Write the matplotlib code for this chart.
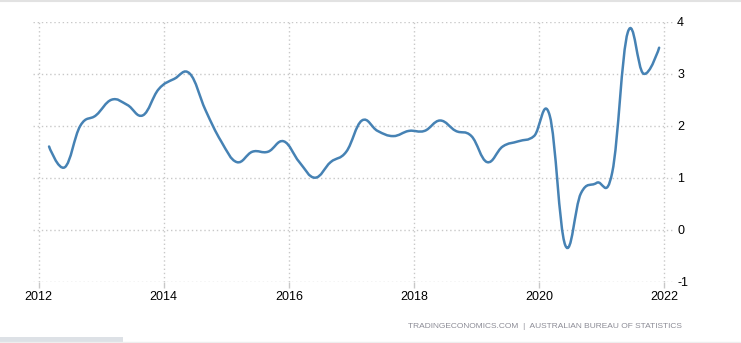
import matplotlib
matplotlib.use('Agg')
import matplotlib.pyplot as plt
from matplotlib.path import Path
from matplotlib.patches import PathPatch, Rectangle
from matplotlib.lines import Line2D

# Australia inflation rate, year over year, quarterly (Mar 2012 - Dec 2021)
quarter_years = [2012] * 4 + [2013] * 4 + [2014] * 4 + [2015] * 4 + [2016] * 4 + \
                [2017] * 4 + [2018] * 4 + [2019] * 4 + [2020] * 4 + [2021] * 4
quarter_months = [3, 6, 9, 12] * 10
inflation = [1.6, 1.2, 2.0, 2.2,
             2.5, 2.4, 2.2, 2.7,
             2.9, 3.0, 2.3, 1.7,
             1.3, 1.5, 1.5, 1.7,
             1.3, 1.0, 1.3, 1.5,
             2.1, 1.9, 1.8, 1.9,
             1.9, 2.1, 1.9, 1.8,
             1.3, 1.6, 1.7, 1.8,
             2.2, -0.3, 0.7, 0.9,
             1.1, 3.8, 3.0, 3.5]

x_ticks = [2012, 2014, 2016, 2018, 2020, 2022]
y_ticks = [-1, 0, 1, 2, 3, 4]
source = "TRADINGECONOMICS.COM  |  AUSTRALIAN BUREAU OF STATISTICS"

line_colour = '#4682b4'
grid_colour = '#c8c8c8'


def spline_path(xs, ys, smoothing=1.5):
    # smooth curve through every point, like a highcharts spline
    n = len(xs)
    left, right = [], []
    for i in range(n):
        if 0 < i < n - 1:
            d = smoothing + 1
            lx = (smoothing * xs[i] + xs[i - 1]) / d
            ly = (smoothing * ys[i] + ys[i - 1]) / d
            rx = (smoothing * xs[i] + xs[i + 1]) / d
            ry = (smoothing * ys[i] + ys[i + 1]) / d
            corr = (ry - ly) * (rx - xs[i]) / (rx - lx) + ys[i] - ry
            ly += corr
            ry += corr
        else:
            lx, ly, rx, ry = xs[i], ys[i], xs[i], ys[i]
        left.append((lx, ly))
        right.append((rx, ry))

    verts = [(xs[0], ys[0])]
    codes = [Path.MOVETO]
    for i in range(1, n):
        verts += [right[i - 1], left[i], (xs[i], ys[i])]
        codes += [Path.CURVE4] * 3
    return Path(verts, codes)


x = [y + (m - 1) / 12 for y, m in zip(quarter_years, quarter_months)]

fig = plt.figure(figsize=(7.41, 3.43), dpi=100)
ax = fig.add_axes([33 / 741, 1 - 281.7 / 343, (675 - 33) / 741, 260 / 343])

ax.add_patch(PathPatch(spline_path(x, inflation), fill=False, edgecolor=line_colour,
                       lw=1.8, capstyle='round', joinstyle='round', zorder=3))

ax.set_xlim(2011.91, 2022.17)
ax.set_ylim(-1, 4)
ax.set_xticks(x_ticks)
ax.set_xticklabels([str(t) for t in x_ticks])
ax.set_yticks(y_ticks)
ax.set_yticklabels([str(t) for t in y_ticks])
ax.yaxis.tick_right()

for s in ax.spines.values():
    s.set_visible(False)

ax.grid(True, color=grid_colour, linestyle=(0, (1, 2)), lw=1)
ax.tick_params(axis='x', length=4, width=1, color=grid_colour, pad=3, labelsize=9)
ax.tick_params(axis='y', length=0, pad=1.5, labelsize=9)
for t in ax.get_xticklabels() + ax.get_yticklabels():
    t.set_family('Liberation Sans')
    t.set_color('black')

fig.text(682 / 741, 1 - 326.5 / 343, source, ha='right', va='center',
         fontsize=6.0, color='#8c8c96', family='Liberation Sans')

# page frame bits
fig.add_artist(Line2D([0, 1], [1 - 1 / 343, 1 - 1 / 343], color='#e2e2e2', lw=1.5))
fig.add_artist(Line2D([0, 1], [1.5 / 343, 1.5 / 343], color='#eeeeee', lw=1))
fig.add_artist(Rectangle((0, 0), 123 / 741, 6 / 343, color='#dde1e6', lw=0))

plt.savefig('out.png', dpi=100)
